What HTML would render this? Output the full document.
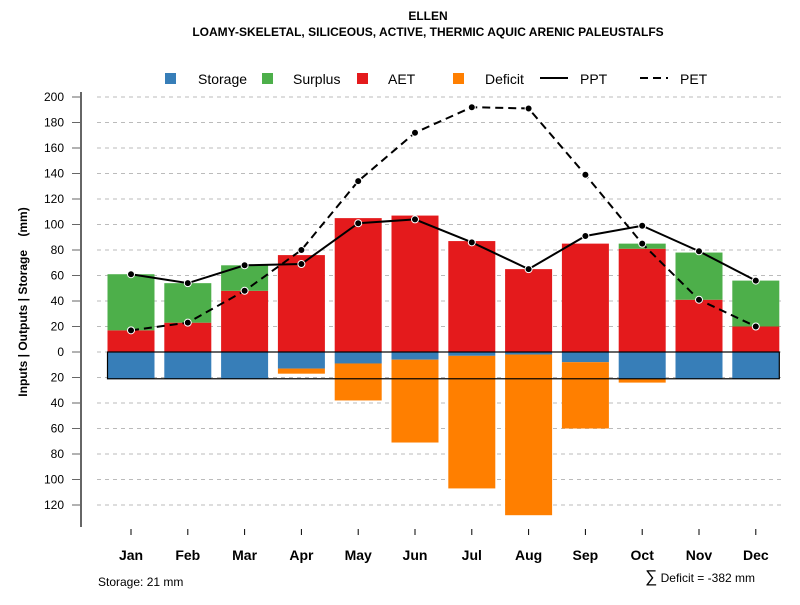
<!DOCTYPE html>
<html><head><meta charset="utf-8"><style>body{margin:0;background:#fff}svg{font-family:"Liberation Sans",sans-serif}</style></head>
<body>
<svg id="chart" width="800" height="600" xmlns="http://www.w3.org/2000/svg">
<text x="428" y="20" text-anchor="middle" font-size="12" font-weight="bold">ELLEN</text>
<text x="428" y="36" text-anchor="middle" font-size="12" font-weight="bold">LOAMY-SKELETAL, SILICEOUS, ACTIVE, THERMIC AQUIC ARENIC PALEUSTALFS</text>
<g id="legend" font-size="14">
<rect x="165" y="73" width="11" height="11" fill="#377EB8"/><text x="198" y="84">Storage</text>
<rect x="262" y="73" width="11" height="11" fill="#4DAF4A"/><text x="293" y="84">Surplus</text>
<rect x="357" y="73" width="11" height="11" fill="#E41A1C"/><text x="388" y="84">AET</text>
<rect x="453" y="73" width="11" height="11" fill="#FF7F00"/><text x="485" y="84">Deficit</text>
<line x1="540" y1="78" x2="568" y2="78" stroke="#000" stroke-width="2"/><text x="580" y="84">PPT</text>
<line x1="640" y1="78" x2="668" y2="78" stroke="#000" stroke-width="2" stroke-dasharray="8,5"/><text x="680" y="84">PET</text>
</g>
<text transform="translate(27,302) rotate(-90)" text-anchor="middle" font-size="12" font-weight="bold" style="white-space:pre">Inputs | Outputs | Storage    (mm)</text>
<text x="98" y="586" font-size="12">Storage: 21 mm</text>
<text x="755" y="582" text-anchor="end" font-size="12"><tspan font-size="17">∑</tspan> Deficit = -382 mm</text>
<g id="grid"></g><g id="bars"></g><g id="lines"></g><g id="axes"></g>
</svg>
<script>
const months=["Jan","Feb","Mar","Apr","May","Jun","Jul","Aug","Sep","Oct","Nov","Dec"];
const aet=[17,23,48,76,105,107,87,65,85,81,41,20];
const surplus=[44,31,20,0,0,0,0,0,0,4,37,36];
const storage=[21,21,21,13,9,6,3,2,8,21,21,21];
const deficit=[0,0,0,4,29,65,104,126,52,3,0,0];
const ppt=[61,54,68,69,101,104,86,65,91,99,79,56];
const pet=[17,23,48,80,134,172,192,191,139,85,41,20];
const yTicks=[200,180,160,140,120,100,80,60,40,20,0,-20,-40,-60,-80,-100,-120];
const storageCap=21;
const NS="http://www.w3.org/2000/svg";
const y=v=>352-v*1.275;
const x=i=>131+i*56.8;
const bw=47;
function mk(tag,attrs,parent,text){const e=document.createElementNS(NS,tag);for(const k in attrs)e.setAttribute(k,attrs[k]);if(text!==undefined)e.textContent=text;document.getElementById(parent).appendChild(e);return e;}
yTicks.forEach(t=>{
 const g=mk('line',{x1:97,x2:785,y1:y(t),y2:y(t),stroke:'#bbb','stroke-dasharray':'4,4'},'grid');
 
 
 const tk=mk('line',{x1:72,x2:81,y1:y(t),y2:y(t),stroke:'#666'},'axes');
 
 
 const tl=mk('text',{x:64,y:y(t)+4,'text-anchor':'end','font-size':12},'axes',String(Math.abs(t)));
 
 
});
const ax=mk('line',{x1:81,x2:81,y1:92,y2:527,stroke:'#666','stroke-width':2},'axes');


months.forEach((m,i)=>{
 const cx=x(i),l=cx-bw/2;
 const parts=[['storage',0,-storage[i],'#377EB8'],['deficit',-storage[i],-storage[i]-deficit[i],'#FF7F00'],['aet',0,aet[i],'#E41A1C'],['surplus',aet[i],aet[i]+surplus[i],'#4DAF4A']];
 parts.forEach(p=>{if(p[1]===p[2])return;
  const r=mk('rect',{x:l,y:Math.min(y(p[1]),y(p[2])),width:bw,height:Math.abs(y(p[1])-y(p[2])),fill:p[3]},'bars');
  
  
 });
 const t=mk('line',{x1:cx,x2:cx,y1:529,y2:535,stroke:'#000'},'axes');
 
 
 const lb=mk('text',{x:cx,y:560,'text-anchor':'middle','font-size':14,'font-weight':'bold'},'axes',m);
 
 
});
const box=mk('rect',{x:x(0)-bw/2,y:y(0),width:x(11)-x(0)+bw,height:y(-storageCap)-y(0),fill:'none',stroke:'#000','stroke-width':1.2},'bars');


[[ppt,'ppt',null],[pet,'pet','8,5']].forEach(s=>{
 const pl=mk('polyline',{points:s[0].map((v,i)=>x(i)+','+y(v)).join(' '),fill:'none',stroke:'#000','stroke-width':2},'lines');
 if(s[2])pl.setAttribute('stroke-dasharray',s[2]);
 
 
 s[0].forEach((v,i)=>{
  const c=mk('circle',{cx:x(i),cy:y(v),r:3.5,fill:'#000',stroke:'#fff','stroke-width':1},'lines');
  
  
 });
});
</script>
</body></html>
